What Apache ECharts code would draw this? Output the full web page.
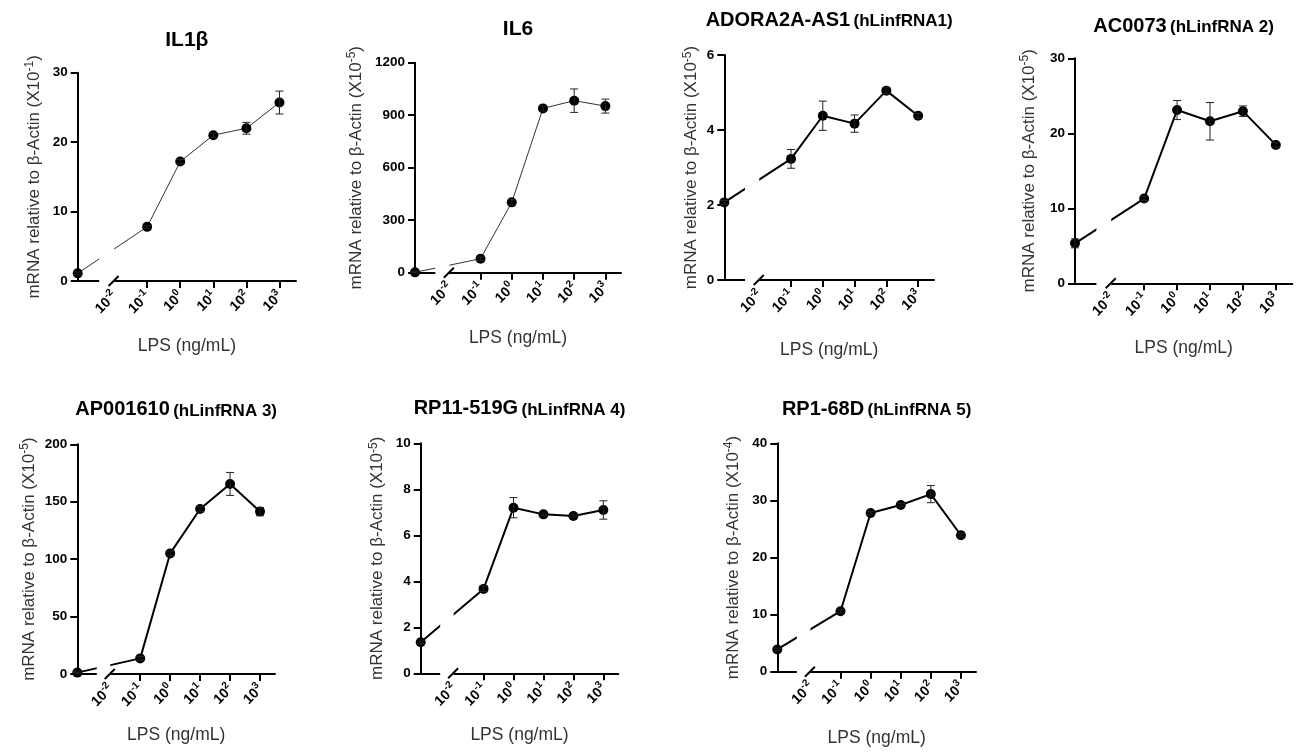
<!DOCTYPE html>
<html><head><meta charset="utf-8">
<script src="https://cdn.jsdelivr.net/npm/echarts@6/dist/echarts.min.js"></script>
<style>html,body{margin:0;padding:0;background:#fff}#c{width:1304px;height:754px}</style>
</head><body><div id="c"></div>
<script>
// ---------- data ----------
const doses = [0, 0.1, 1, 10, 100, 1000];           // LPS ng/mL (0 = control)
const tickExponents = [-2, -1, 0, 1, 2, 3];          // x tick labels 10^k
const titles = ['IL1\u03b2', 'IL6', 'ADORA2A-AS1', 'AC0073', 'AP001610', 'RP11-519G', 'RP1-68D'];
const subtitles = ['', '', '(hLinfRNA1)', '(hLinfRNA 2)', '(hLinfRNA 3)', '(hLinfRNA 4)', '(hLinfRNA 5)'];
const yExponents = [-1, -5, -5, -5, -5, -5, -4];
const yMaxes = [30, 1200, 6, 30, 200, 10, 40];
const ySteps = [10, 300, 2, 10, 50, 2, 10];

const il1bMean = [1.1, 7.8, 17.2, 21.0, 22.0, 25.7];
const il1bErr  = [0.2, 0.2, 0.3, 0.3, 0.85, 1.65];
const il6Mean  = [2, 80, 402, 939, 983, 952];
const il6Err   = [3, 10, 15, 15, 67, 40];
const adoraMean = [2.07, 3.23, 4.38, 4.17, 5.05, 4.38];
const adoraErr  = [0.05, 0.25, 0.39, 0.23, 0.08, 0.06];
const ac0073Mean = [5.33, 11.3, 23.1, 21.6, 22.95, 18.45];
const ac0073Err  = [0.6, 0.3, 1.27, 2.5, 0.7, 0.3];
const ap001610Mean = [1.2, 13.6, 105, 143.7, 165.5, 141.4];
const ap001610Err  = [0.5, 1.5, 2, 2, 10, 3.6];
const rp11Mean = [1.35, 3.67, 7.2, 6.91, 6.84, 7.1];
const rp11Err  = [0.05, 0.12, 0.44, 0.05, 0.05, 0.4];
const rp1Mean = [3.9, 10.6, 27.8, 29.2, 31.1, 23.9];
const rp1Err  = [0.2, 0.3, 0.3, 0.3, 1.5, 0.3];

const means = [il1bMean, il6Mean, adoraMean, ac0073Mean, ap001610Mean, rp11Mean, rp1Mean];
const errs  = [il1bErr, il6Err, adoraErr, ac0073Err, ap001610Err, rp11Err, rp1Err];

// ---------- layout (pixels) ----------
const layout = [
  {l: 77.7,  r: 296,    t: 72.7,  b: 281,   ty: 39,    yg: 35,   xg: 56,   lw: 1, lc: '#333'},
  {l: 415,   r: 621,    t: 62.7,  b: 272.7, ty: 27.3,  yg: 50.5, xg: 56.5, lw: 1, lc: '#333'},
  {l: 724.3, r: 934,    t: 55,    b: 280,   ty: 18.3,  yg: 24,   xg: 61,   lw: 2, lc: '#000'},
  {l: 1075,  r: 1292.3, t: 58.3,  b: 283.3, ty: 24,    yg: 37.5, xg: 56,   lw: 2, lc: '#000'},
  {l: 77.3,  r: 275,    t: 444.3, b: 674,   ty: 407.5, yg: 39.5, xg: 52,   lw: 2, lc: '#000'},
  {l: 420.7, r: 618.3,  t: 443.3, b: 673.3, ty: 406.7, yg: 34.5, xg: 52.7, lw: 2, lc: '#000'},
  {l: 777.3, r: 976,    t: 443.3, b: 671.7, ty: 407,   yg: 35.5, xg: 57.6, lw: 2, lc: '#000'}
];

const FONT = '"Liberation Sans", Arial, Helvetica, sans-serif';
const ZERO_POS = -3.1, X_MAX = 3.5, GAP_START = -2.45, GAP_END = -2.0;
const xPos = d => d === 0 ? ZERO_POS : Math.log10(d);

const option = {animation: false, grid: [], xAxis: [], yAxis: [], series: [], graphic: []};

titles.forEach((title, i) => {
  const L = layout[i];
  option.grid.push({left: L.l, top: L.t, width: L.r - L.l, height: L.b - L.t});
  option.xAxis.push({
    type: 'value', gridIndex: i, min: ZERO_POS, max: X_MAX,
    axisLine: {show: true, onZero: false, lineStyle: {color: '#000', width: 2}},
    axisTick: {show: true, customValues: tickExponents.slice(1), length: 7, lineStyle: {color: '#000', width: 2}},
    axisLabel: {
      show: true, customValues: tickExponents, rotate: 45, margin: 12,
      formatter: v => '{b|10}{s|' + v + '}',
      rich: {
        b: {fontSize: 14, fontWeight: 'bold', fontFamily: FONT, color: '#000', verticalAlign: 'bottom', lineHeight: 17},
        s: {fontSize: 10, fontWeight: 'bold', fontFamily: FONT, color: '#000', verticalAlign: 'top', lineHeight: 10}
      }
    },
    splitLine: {show: false},
    name: 'LPS (ng/mL)', nameLocation: 'middle', nameGap: L.xg,
    nameTextStyle: {fontSize: 17.5, fontFamily: FONT, color: '#333'}
  });
  option.yAxis.push({
    type: 'value', gridIndex: i, min: 0, max: yMaxes[i], interval: ySteps[i],
    axisLine: {show: true, onZero: false, lineStyle: {color: '#000', width: 2}},
    axisTick: {show: true, length: 7, lineStyle: {color: '#000', width: 2}},
    axisLabel: {margin: 10, fontSize: 13.5, fontWeight: 'bold', fontFamily: FONT, color: '#000',
      formatter: v => String(v)},
    splitLine: {show: false},
    name: '{n|mRNA relative to \u03b2-Actin (X10}{s|' + yExponents[i] + '}{n|)}',
    nameLocation: 'middle', nameRotate: 90, nameGap: L.yg,
    nameTextStyle: {
      rich: {
        n: {fontSize: 17, fontFamily: FONT, color: '#333', verticalAlign: 'bottom', lineHeight: 19},
        s: {fontSize: 12, fontFamily: FONT, color: '#333', verticalAlign: 'top', lineHeight: 12}
      }
    }
  });
  const pts = doses.map((d, k) => [xPos(d), means[i][k]]);
  option.series.push({
    type: 'line', xAxisIndex: i, yAxisIndex: i, data: pts, z: 2, silent: true,
    symbol: 'circle', symbolSize: 10, itemStyle: {color: '#000'},
    lineStyle: {color: L.lc, width: L.lw}
  });
  option.series.push({
    type: 'custom', xAxisIndex: i, yAxisIndex: i, z: 3, silent: true, clip: false,
    data: doses.map((d, k) => [xPos(d), means[i][k], errs[i][k]]),
    encode: {x: 0, y: 1},
    renderItem: (params, api) => {
      const x = api.value(0), y = api.value(1), e = api.value(2);
      const top = api.coord([x, y + e]), bot = api.coord([x, y - e]);
      const hw = 4, st = {stroke: '#222', lineWidth: 1};
      return {type: 'group', children: [
        {type: 'line', shape: {x1: top[0], y1: top[1], x2: bot[0], y2: bot[1]}, style: st},
        {type: 'line', shape: {x1: top[0] - hw, y1: top[1], x2: top[0] + hw, y2: top[1]}, style: st},
        {type: 'line', shape: {x1: bot[0] - hw, y1: bot[1], x2: bot[0] + hw, y2: bot[1]}, style: st}
      ]};
    }
  });
  // axis-break mask
  option.series.push({
    type: 'custom', xAxisIndex: i, yAxisIndex: i, z: 5, silent: true, clip: false,
    data: [[GAP_START, 0, GAP_END]], encode: {x: 0, y: 1},
    renderItem: (params, api) => {
      const a = api.coord([api.value(0), 0]), b = api.coord([api.value(2), 0]);
      const top = params.coordSys.y;
      return {type: 'rect', shape: {x: a[0], y: top - 2, width: b[0] - a[0], height: a[1] - top + 4.5}, style: {fill: '#fff'}};
    }
  });
  // break slash
  option.series.push({
    type: 'custom', xAxisIndex: i, yAxisIndex: i, z: 6, silent: true, clip: false,
    data: [[GAP_END, 0]], encode: {x: 0, y: 1},
    renderItem: (params, api) => {
      const c = api.coord([api.value(0), api.value(1)]);
      return {type: 'line', shape: {x1: c[0] - 5.5, y1: c[1] + 5, x2: c[0] + 4.5, y2: c[1] - 5}, style: {stroke: '#000', lineWidth: 2}};
    }
  });
  // title
  const main = i < 2 ? 21 : 20;
  option.graphic.push({
    type: 'text', x: (L.l + L.r) / 2, y: L.ty,
    style: {
      text: subtitles[i] ? '{m|' + title + '} {s|' + subtitles[i] + '}' : '{m|' + title + '}',
      align: 'center', verticalAlign: 'middle',
      rich: {
        m: {fontSize: main, fontWeight: 'bold', fontFamily: FONT, fill: '#000', verticalAlign: 'bottom', lineHeight: 24},
        s: {fontSize: 17, fontWeight: 'bold', fontFamily: FONT, fill: '#000', verticalAlign: 'bottom', lineHeight: 24}
      }
    }
  });
});

const chart = echarts.init(document.getElementById('c'), null, {renderer: 'canvas'});
chart.setOption(option);
</script>
</body></html>
